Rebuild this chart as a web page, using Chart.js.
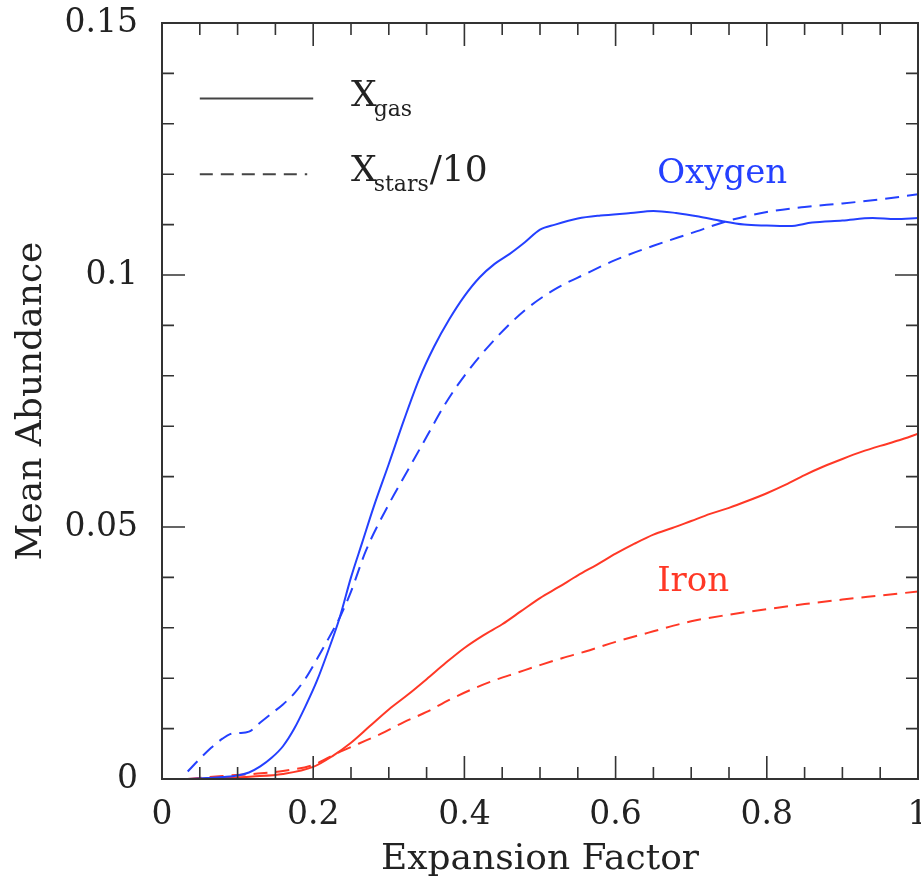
<!DOCTYPE html>
<html>
<head>
<meta charset="utf-8">
<script src="https://cdn.jsdelivr.net/npm/chart.js@4.4.1/dist/chart.umd.min.js"></script>
<style>
  html, body { margin: 0; padding: 0; background: #fff; }
  #wrap { width: 921px; height: 877px; position: relative; }
</style>
</head>
<body>
<div id="wrap"><canvas id="abundanceChart"></canvas></div>
<script>
const xTickValues = [0, 0.2, 0.4, 0.6, 0.8, 1];
const xTickLabels = ['0', '0.2', '0.4', '0.6', '0.8', '1'];
const xMinorTicks = [0.05, 0.1, 0.15, 0.25, 0.3, 0.35, 0.45, 0.5, 0.55, 0.65, 0.7, 0.75, 0.85, 0.9, 0.95];
const yTickValues = [0, 0.05, 0.1, 0.15];
const yTickLabels = ['0', '0.05', '0.1', '0.15'];
const yMinorTicks = [0.01, 0.02, 0.03, 0.04, 0.06, 0.07, 0.08, 0.09, 0.11, 0.12, 0.13, 0.14];

// oxygen, gas phase (solid)
const oxyGasX = [0.034, 0.06, 0.08, 0.10, 0.115, 0.13, 0.145, 0.16, 0.175, 0.19, 0.205, 0.22, 0.235, 0.25, 0.265, 0.28, 0.30, 0.32, 0.34, 0.36, 0.38, 0.40, 0.42, 0.44, 0.46, 0.48, 0.50, 0.52, 0.55, 0.58, 0.62, 0.65, 0.68, 0.71, 0.74, 0.77, 0.80, 0.83, 0.86, 0.90, 0.94, 0.97, 1.0];
const oxyGasY = [0.0, 0.0002, 0.0004, 0.0007, 0.0013, 0.0025, 0.0042, 0.0065, 0.0100, 0.0145, 0.0195, 0.0255, 0.032, 0.040, 0.047, 0.054, 0.0625, 0.0712, 0.0793, 0.0858, 0.0912, 0.0958, 0.0995, 0.1022, 0.1042, 0.1065, 0.109, 0.110, 0.1112, 0.1118, 0.1123, 0.1127, 0.1123, 0.1116, 0.1107, 0.1100, 0.1098, 0.1097, 0.1104, 0.1108, 0.1113, 0.1111, 0.1113];

// oxygen, stars / 10 (dashed)
const oxyStarX = [0.034, 0.05, 0.065, 0.08, 0.09, 0.10, 0.115, 0.13, 0.145, 0.16, 0.175, 0.19, 0.205, 0.22, 0.235, 0.25, 0.27, 0.30, 0.325, 0.35, 0.375, 0.40, 0.44, 0.48, 0.52, 0.56, 0.60, 0.65, 0.70, 0.75, 0.80, 0.85, 0.90, 0.95, 1.0];
const oxyStarY = [0.0015, 0.004, 0.0062, 0.0080, 0.0089, 0.0091, 0.0094, 0.0112, 0.013, 0.0148, 0.0170, 0.0200, 0.0238, 0.0278, 0.032, 0.0372, 0.0454, 0.0545, 0.0612, 0.0679, 0.0745, 0.080, 0.0872, 0.093, 0.0972, 0.1002, 0.1030, 0.1058, 0.1083, 0.1108, 0.1125, 0.1135, 0.1142, 0.1150, 0.1160];

// iron, gas phase (solid)
const ironGasX = [0.034, 0.08, 0.12, 0.16, 0.20, 0.225, 0.25, 0.275, 0.30, 0.325, 0.35, 0.375, 0.40, 0.425, 0.45, 0.475, 0.50, 0.525, 0.55, 0.575, 0.60, 0.625, 0.65, 0.675, 0.70, 0.725, 0.75, 0.775, 0.80, 0.825, 0.85, 0.875, 0.90, 0.925, 0.95, 0.975, 1.0];
const ironGasY = [0.0, 0.0002, 0.0005, 0.001, 0.0024, 0.0045, 0.0072, 0.0105, 0.0138, 0.0167, 0.0198, 0.023, 0.026, 0.0285, 0.0307, 0.0333, 0.0359, 0.0381, 0.0404, 0.0425, 0.0447, 0.0467, 0.0485, 0.0498, 0.0512, 0.0526, 0.0538, 0.0552, 0.0567, 0.0584, 0.0603, 0.062, 0.0635, 0.0649, 0.0661, 0.0672, 0.0685];

// iron, stars / 10 (dashed)
const ironStarX = [0.034, 0.08, 0.12, 0.16, 0.20, 0.23, 0.26, 0.29, 0.32, 0.35, 0.38, 0.41, 0.44, 0.47, 0.50, 0.53, 0.56, 0.60, 0.65, 0.70, 0.75, 0.80, 0.85, 0.90, 0.95, 1.0];
const ironStarY = [0.0, 0.0006, 0.001, 0.0016, 0.0028, 0.005, 0.007, 0.009, 0.0113, 0.0133, 0.0157, 0.0178, 0.0196, 0.0211, 0.0226, 0.024, 0.0253, 0.0272, 0.0293, 0.0313, 0.0326, 0.0337, 0.0347, 0.0356, 0.0364, 0.0372];

const BLUE = '#2440ff';
const RED = '#ff3826';
const INK = '#222';
const FONT = "'DejaVu Serif', serif";

function toPoints(xs, ys) {
  return xs.map((x, i) => ({ x, y: ys[i] }));
}

function lineSet(label, xs, ys, color, dashed) {
  return {
    label,
    data: toPoints(xs, ys),
    borderColor: color,
    borderWidth: 2,
    borderDash: dashed ? [14, 8] : [],
    pointRadius: 0,
    cubicInterpolationMode: 'monotone',
    fill: false,
  };
}

// frame, inward ticks on all four sides, legend and labels
const decorPlugin = {
  id: 'decor',
  afterDraw(chart) {
    const { ctx, chartArea: a, scales } = chart;
    const xs = scales.x;
    const ys = scales.y;
    ctx.save();
    ctx.strokeStyle = '#333';
    ctx.lineWidth = 2;
    ctx.strokeRect(a.left, a.top, a.right - a.left, a.bottom - a.top);

    ctx.lineWidth = 1.6;
    const xTick = (v, len) => {
      const px = xs.getPixelForValue(v);
      ctx.beginPath();
      ctx.moveTo(px, a.bottom); ctx.lineTo(px, a.bottom - len);
      ctx.moveTo(px, a.top); ctx.lineTo(px, a.top + len);
      ctx.stroke();
    };
    const yTick = (v, len) => {
      const py = ys.getPixelForValue(v);
      ctx.beginPath();
      ctx.moveTo(a.left, py); ctx.lineTo(a.left + len, py);
      ctx.moveTo(a.right, py); ctx.lineTo(a.right - len, py);
      ctx.stroke();
    };
    xMinorTicks.forEach((v) => xTick(v, 12));
    xTickValues.forEach((v) => xTick(v, 23));
    yMinorTicks.forEach((v) => yTick(v, 12));
    yTickValues.forEach((v) => yTick(v, 23));

    // legend
    ctx.strokeStyle = '#444';
    ctx.lineWidth = 2;
    const lx0 = xs.getPixelForValue(0.05);
    const lx1 = xs.getPixelForValue(0.2);
    const ly1 = ys.getPixelForValue(0.135);
    const ly2 = ys.getPixelForValue(0.12);
    ctx.beginPath();
    ctx.moveTo(lx0, ly1); ctx.lineTo(lx1, ly1);
    ctx.stroke();
    ctx.setLineDash([13, 8]);
    ctx.beginPath();
    ctx.moveTo(lx0, ly2); ctx.lineTo(lx1 - 6, ly2);
    ctx.stroke();
    ctx.setLineDash([]);

    const tx = xs.getPixelForValue(0.25);
    ctx.fillStyle = INK;
    ctx.textBaseline = 'alphabetic';
    ctx.textAlign = 'left';
    ctx.font = `36px ${FONT}`;
    ctx.fillText('X', tx, ly1 + 7);
    const w = ctx.measureText('X').width;
    ctx.font = `22px ${FONT}`;
    ctx.fillText('gas', tx + w - 3, ly1 + 17);
    ctx.font = `36px ${FONT}`;
    ctx.fillText('X', tx, ly2 + 7);
    ctx.font = `22px ${FONT}`;
    ctx.fillText('stars', tx + w - 3, ly2 + 17);
    const sw = ctx.measureText('stars').width;
    ctx.font = `36px ${FONT}`;
    ctx.fillText('/10', tx + w - 3 + sw + 1, ly2 + 7);

    ctx.font = `34px ${FONT}`;
    ctx.fillStyle = BLUE;
    ctx.fillText('Oxygen', xs.getPixelForValue(0.655), ys.getPixelForValue(0.1183));
    ctx.fillStyle = RED;
    ctx.fillText('Iron', xs.getPixelForValue(0.655), ys.getPixelForValue(0.0373));
    ctx.restore();
  },
};

function noLabelPadding(scale) {
  scale.paddingLeft = 0;
  scale.paddingRight = 0;
  scale.paddingTop = 0;
  scale.paddingBottom = 0;
}

const ctx = document.getElementById('abundanceChart').getContext('2d');
new Chart(ctx, {
  type: 'line',
  data: {
    datasets: [
      lineSet('Oxygen gas', oxyGasX, oxyGasY, BLUE, false),
      lineSet('Oxygen stars/10', oxyStarX, oxyStarY, BLUE, true),
      lineSet('Iron gas', ironGasX, ironGasY, RED, false),
      lineSet('Iron stars/10', ironStarX, ironStarY, RED, true),
    ],
  },
  options: {
    responsive: true,
    maintainAspectRatio: false,
    animation: false,
    layout: { padding: { top: 23, right: 3, left: 0, bottom: 0 } },
    plugins: {
      legend: { display: false },
      tooltip: { enabled: false },
    },
    scales: {
      x: {
        type: 'linear',
        min: 0,
        max: 1,
        grid: { display: false, drawTicks: false },
        border: { display: false },
        afterBuildTicks(scale) {
          scale.ticks = xTickValues.map((value) => ({ value }));
        },
        afterFit(scale) {
          scale.height = 98;
          noLabelPadding(scale);
        },
        ticks: {
          padding: 17,
          color: INK,
          maxRotation: 0,
          autoSkip: false,
          font: { family: FONT, size: 33 },
          callback(value, i) {
            return xTickLabels[i];
          },
        },
        title: {
          display: true,
          text: 'Expansion Factor',
          color: INK,
          font: { family: FONT, size: 36 },
          padding: { top: 0, bottom: -4 },
        },
      },
      y: {
        type: 'linear',
        min: 0,
        max: 0.15,
        grid: { display: false, drawTicks: false },
        border: { display: false },
        afterBuildTicks(scale) {
          scale.ticks = yTickValues.map((value) => ({ value }));
        },
        afterFit(scale) {
          scale.width = 162;
          noLabelPadding(scale);
        },
        ticks: {
          padding: 24,
          color: INK,
          autoSkip: false,
          font: { family: FONT, size: 33 },
          callback(value, i) {
            return yTickLabels[i];
          },
        },
        title: {
          display: true,
          text: 'Mean Abundance',
          color: INK,
          font: { family: FONT, size: 36 },
          padding: { top: 10, bottom: 0 },
        },
      },
    },
  },
  plugins: [decorPlugin],
});
</script>
</body>
</html>
